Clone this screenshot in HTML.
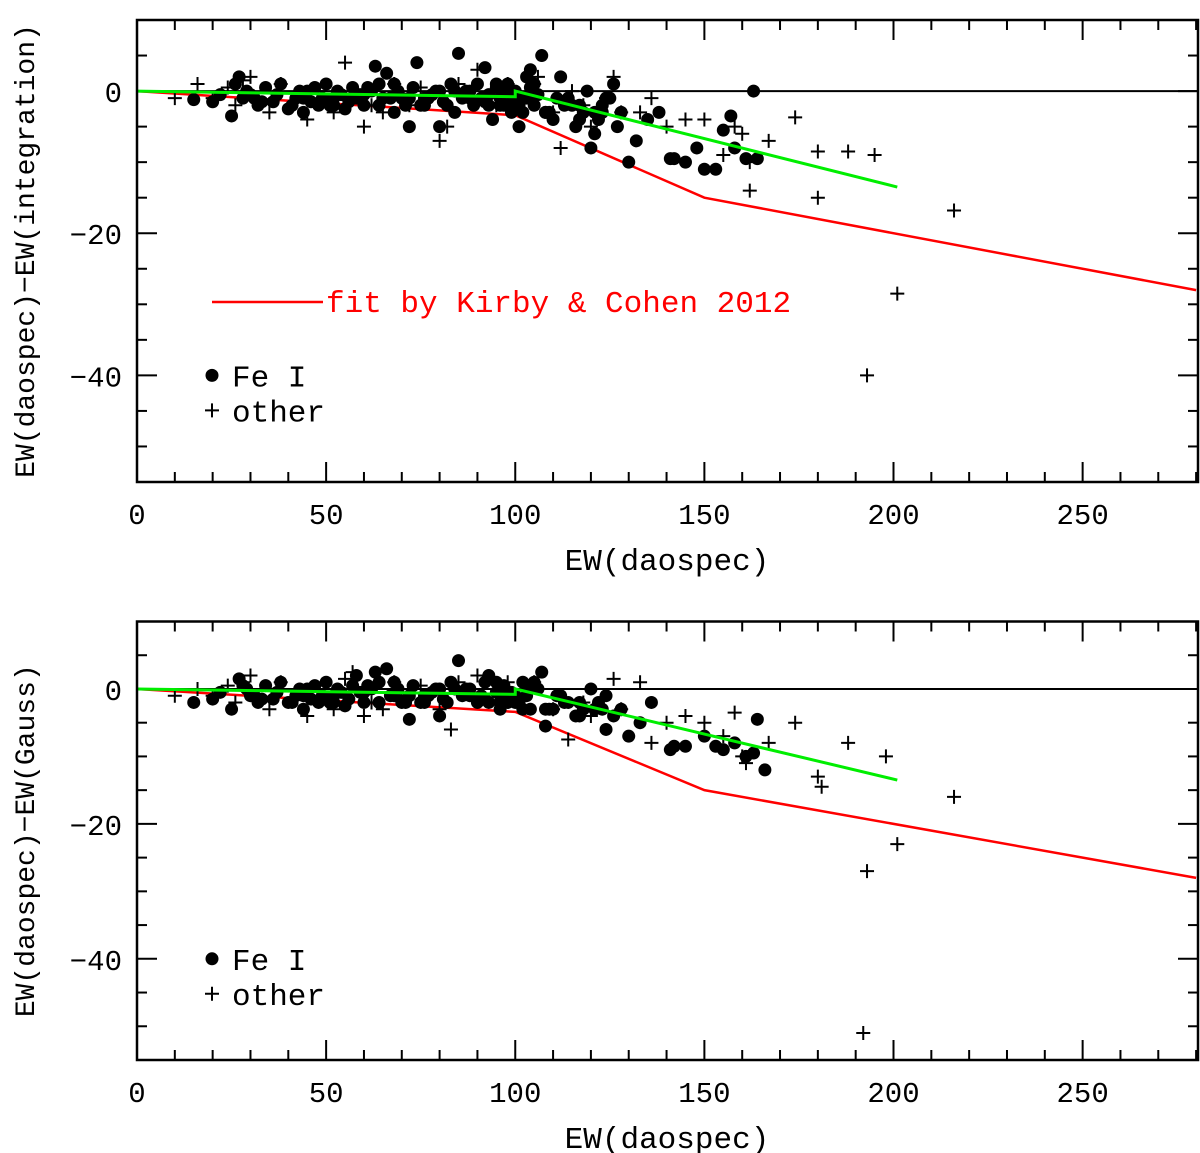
<!DOCTYPE html>
<html><head><meta charset="utf-8"><style>
html,body{margin:0;padding:0;background:#fff;}
svg{display:block;}
text{font-family:"Liberation Mono","DejaVu Sans Mono",monospace;}
</style></head><body>
<svg id="chart" width="1200" height="1153" viewBox="0 0 1200 1153"></svg>
<script>
// ---- data ----
const xTicks = [0, 50, 100, 150, 200, 250];
const yTicks = [0, -20, -40];
const kirbyFitX = [0, 100, 150, 280];
const kirbyFitY = [0, -3.4, -15, -28];
const greenFitX = [0, 100, 100, 201];
const greenFitY = [0, -0.8, 0, -13.5];

const topFeX = [15,20,22,25,26,27,28,30,32,34,36,38,40,42,45,48,50,52,54,55,57,58,60,62,63,64,65,66,68,70,72,73,74,75,76,78,80,82,83,84,85,86,88,89,90,92,93,94,95,96,97,98,99,100,101,102,103,104,105,106,107,108,110,112,114,115,116,118,119,120,121,122,123,125,126,127,128,130,132,135,138,141,142,145,148,150,153,155,157,158,161,163,164,
 29,31,33,37,41,43,44,46,47,49,51,53,56,59,61,67,69,71,77,79,81,87,91,93,95,97,99,101,103,105,109,111,113,117,121,124,44,52,60,68,76,84,92,96,100,104,108,64,72,80,88,98,102,117,123];
const topFeY = [-1.2,-1.5,-0.5,-3.5,1,2,-1,-0.5,-2,0.5,-1.5,1,-2.5,-1,0,-2,1,-1,-0.5,-2.5,0.5,-1,-2,0,3.5,1,-1,2.5,-3,-1,-5,0.5,4,-2,-1,-0.5,-5,-2,1,-3,5.3,-1,0,-2,1,3.3,-0.5,-4,0.5,-1,-2,1,-3,0,-5,-1,2,3,-2,-0.5,5,-3,-4,2,-1,-2,-5,-3,0,-8,-6,-4,-2,-1,1,-5,-3,-10,-7,-4,-3,-9.5,-9.5,-10,-8,-11,-11,-5.5,-3.5,-8,-9.5,0,-9.5,
 0,-1,-1.5,-0.5,-2,0,-1,-1.5,0.5,-1,-2,0,-1.5,-0.5,0.5,-1,0,-2,-1,0,-1.5,0,-1,-2,1,0,-0.5,-2,-1,1,-3,-1,-2,-4,-3,-1,-3,-2,-0.5,1,-2,0,-1.5,-2,-1,0.5,-3,-2,-1,0,-1,-2,-3,-2,-3];
const topPlusX = [10,16,20,24,26,28,30,32,35,38,45,48,52,55,57,60,62,65,68,70,72,75,80,82,85,90,95,98,100,105,106,110,112,115,118,120,124,126,128,133,136,140,145,150,155,158,160,162,162,167,174,180,180,188,195,201,193,216];
const topPlusY = [-1,1,-1,0.5,-2,1.5,2,-1,-3,1,-4,0,-3,4,-1,-5,-2,-3,1,-1,-2,0.5,-7,-5,1,3,-2,1,-1,1,2,-3,-8,0,-2,-5,-1,2,-3,-3,-1,-5,-4,-4,-9,-5,-6,-14,-10,-7,-3.7,-8.5,-15,-8.5,-9,-28.5,-40,-16.8];

const botFeX = [15,20,22,25,27,28,30,32,34,36,38,40,42,45,48,50,52,54,55,57,58,60,62,63,64,66,68,70,72,73,75,76,78,80,82,83,85,86,88,90,92,93,95,96,97,98,100,102,104,106,107,108,110,112,114,116,118,120,122,124,126,128,130,133,136,141,142,145,150,153,155,158,161,163,164,166,
 29,31,33,37,41,43,44,46,47,49,51,53,56,59,61,67,69,71,77,79,81,87,91,93,95,97,99,101,103,105,109,111,113,117,121,124,44,52,60,68,76,84,92,96,100,104,108,64,72,80,88,98,102,117,123];
const botFeY = [-2,-1.5,-0.5,-3,1.5,0.5,-1,-2,0.5,-1.5,1,-2,-1,0,-2,1,-1,-0.5,-2.5,0.5,2,-2,0,2.5,1,3,-1,-2,-4.5,0.5,-2,-1,-0.5,-4,-2,1,4.2,-1,0,-2,1,2,-0.5,-3,0.5,-1,-2,1,-3,0,2.5,-5.5,-3,-1,-2,-4,-3,0,-2,-6,-4,-3,-7,-5,-2,-9,-8.5,-8.5,-7,-8.5,-9,-8,-10,-9.5,-4.5,-12,
 0,-1,-1.5,-0.5,-2,0,-1,-1.5,0.5,-1,-2,0,-1.5,-0.5,0.5,-1,0,-2,-1,0,-1.5,0,-1,-2,1,0,-0.5,-2,-1,1,-3,-1,-2,-4,-3,-1,-3,-2,-0.5,1,-2,0,-1.5,-2,-1,0.5,-3,-2,-1,0,-1,-2,-3,-2,-3];
const botPlusX = [10,16,20,24,26,28,30,32,35,38,45,48,52,55,57,60,62,65,68,70,75,80,83,85,90,95,98,100,105,110,114,118,120,126,128,133,136,140,145,150,155,158,160,161,167,174,180,181,188,198,193,201,192,216];
const botPlusY = [-1,0,-1,0.5,-2,1,2,-1,-3,1,-4,0,-3,1.5,2.5,-4,-2,-3,1,-1,0.5,-3,-6,1,2,-2,1,-1,1,-3,-7.5,-2,-4,1.5,-3,1,-8,-5,-4,-5,-7,-3.5,-10,-11,-8,-5,-13,-14.5,-8,-10,-27,-23,-51,-16];

// ---- layout ----
const svg = document.getElementById('chart');
const NS = 'http://www.w3.org/2000/svg';
function mk(tag, attrs, parent){const e=document.createElementNS(NS,tag);for(const k in attrs)e.setAttribute(k,attrs[k]);(parent||svg).appendChild(e);return e;}

function panel(id, top, bottom, yLabel, feX, feY, plX, plY, showFitLegend){
  const L=137, R=1198, xMin=0, xMax=280.5, yMax=10, yMin=-55;
  const sx = v => L + (v - xMin) / (xMax - xMin) * (R - L);
  const sy = v => top + (yMax - v) / (yMax - yMin) * (bottom - top);
  const g = mk('g', {});
  
  
  for (let v=0; v<=280; v+=10){
    const len = v%50===0 ? 20 : 10;
    mk('line',{x1:sx(v),x2:sx(v),y1:bottom,y2:bottom-len,stroke:'#000','stroke-width':2},g);
    mk('line',{x1:sx(v),x2:sx(v),y1:top,y2:top+len,stroke:'#000','stroke-width':2},g);
  }
  for (let v=-55; v<=10; v+=5){
    const len = v%20===0 ? 20 : 10;
    mk('line',{x1:L,x2:L+len,y1:sy(v),y2:sy(v),stroke:'#000','stroke-width':2},g);
    mk('line',{x1:R,x2:R-len,y1:sy(v),y2:sy(v),stroke:'#000','stroke-width':2},g);
  }
  xTicks.forEach(v=>{const t=mk('text',{x:sx(v),y:bottom+42,'font-size':29,'text-anchor':'middle'},g);t.textContent=v;
    });
  yTicks.forEach(v=>{const t=mk('text',{x:L-15,y:sy(v)+11,'font-size':29,'text-anchor':'end'},g);t.textContent=v===0?'0':'\u2212'+Math.abs(v);
    });
  const z=mk('line',{x1:L,x2:R,y1:sy(0),y2:sy(0),stroke:'#000','stroke-width':2},g);
  
  const red=mk('polyline',{points:kirbyFitX.map((x,i)=>sx(x)+','+sy(kirbyFitY[i])).join(' '),fill:'none',stroke:'#f00','stroke-width':2.5},g);
  
  feX.forEach((x,i)=>{const c=mk('circle',{cx:sx(x),cy:sy(feY[i]),r:6.5,fill:'#000'},g);
    });
  plX.forEach((x,i)=>{const X=sx(x),Y=sy(plY[i]);const p=mk('path',{d:`M${X-7},${Y}H${X+7}M${X},${Y-7}V${Y+7}`,stroke:'#000','stroke-width':2},g);
    });
  const gr=mk('polyline',{points:greenFitX.map((x,i)=>sx(x)+','+sy(greenFitY[i])).join(' '),fill:'none',stroke:'#0e0','stroke-width':3},g);
  
  mk('rect',{x:L,y:top,width:R-L,height:bottom-top,fill:'none',stroke:'#000','stroke-width':2.5},g);
  const xl=mk('text',{x:667,y:bottom+88,'font-size':31,'text-anchor':'middle'},g);xl.textContent='EW(daospec)';
  
  const cy=(top+bottom)/2;
  const yl=mk('text',{x:0,y:0,'font-size':28,'text-anchor':'middle',transform:`translate(34,${cy}) rotate(-90)`},g);yl.textContent=yLabel;
  
  const ly=sy(-40);
  const ld=mk('circle',{cx:212,cy:ly,r:6.5,fill:'#000'},g);
  const lt=mk('text',{x:232,y:ly+11,'font-size':31},g);lt.textContent='Fe I';
  const ly2=ly+35;
  const lp=mk('path',{d:`M205,${ly2}H219M212,${ly2-7}V${ly2+7}`,stroke:'#000','stroke-width':2},g);
  const lt2=mk('text',{x:232,y:ly2+11,'font-size':31},g);lt2.textContent='other';
  if(showFitLegend){
    const fl=mk('line',{x1:212,x2:323,y1:302,y2:302,stroke:'#f00','stroke-width':2.5},g);
    const ft=mk('text',{x:326,y:312,'font-size':31,fill:'#f00'},g);ft.textContent='fit by Kirby & Cohen 2012';
    
  }
}
panel('top-panel',20,482,'EW(daospec)\u2212EW(integration)',topFeX,topFeY,topPlusX,topPlusY,true);
panel('bottom-panel',621.5,1060,'EW(daospec)\u2212EW(Gauss)',botFeX,botFeY,botPlusX,botPlusY,false);
</script>
</body></html>
